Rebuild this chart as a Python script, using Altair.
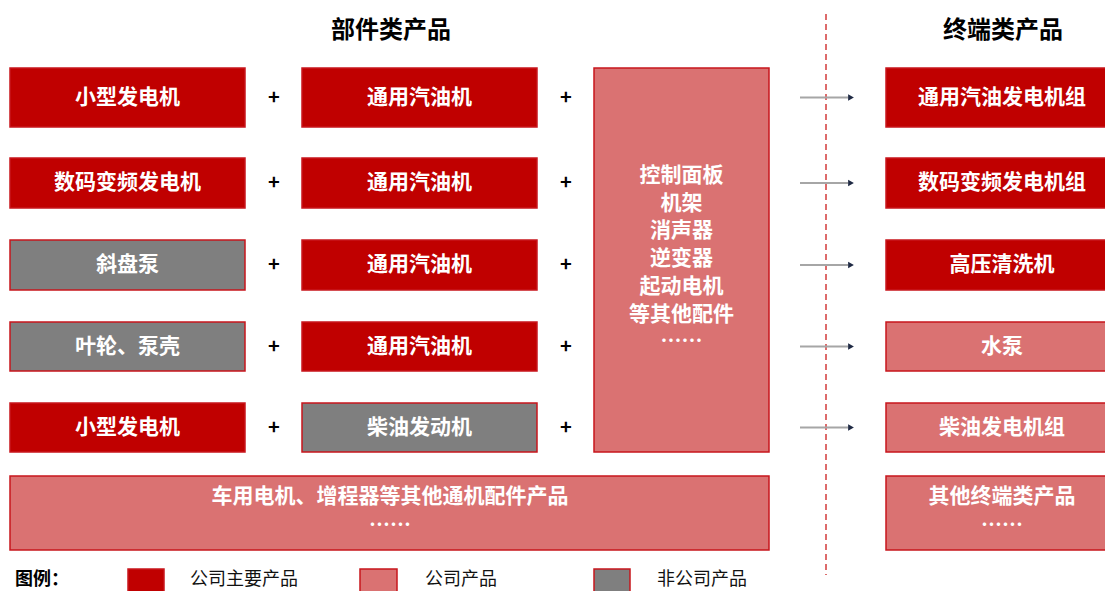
import altair as alt
import pandas as pd

# ---------------- data ----------------
MAIN, COMP, NON = "公司主要产品", "公司产品", "非公司产品"
kinds = [MAIN, COMP, NON]
kind_colors = ["#C00000", "#DA7272", "#7F7F7F"]

left_labels = ["小型发电机", "数码变频发电机", "斜盘泵", "叶轮、泵壳", "小型发电机"]
left_kinds = [MAIN, MAIN, NON, NON, MAIN]
mid_labels = ["通用汽油机", "通用汽油机", "通用汽油机", "通用汽油机", "柴油发动机"]
mid_kinds = [MAIN, MAIN, MAIN, MAIN, NON]
right_labels = ["通用汽油发电机组", "数码变频发电机组", "高压清洗机", "水泵", "柴油发电机组"]
right_kinds = [MAIN, MAIN, MAIN, COMP, COMP]
parts_lines = ["控制面板", "机架", "消声器", "逆变器", "起动电机", "等其他配件", "……"]
bottom_left_lines = ["车用电机、增程器等其他通机配件产品", "……"]
bottom_right_lines = ["其他终端类产品", "……"]
titles = ["部件类产品", "终端类产品"]
legend_title = "图例："

# ---------------- layout ----------------
W, H = 1097, 583
row_top = [68, 158, 240, 322, 403]
row_bot = [127, 208, 290, 371, 452]
col_left = (10, 245)
col_mid = (302, 537)
col_parts = (594, 769)
col_right = (886, 1120)
plus_x = [274, 566]
arrow_x = (800, 851)
divider_x = 826
bottom_box = (476, 550)
legend_sq_x = [(128, 164), (360, 397), (594, 630)]
legend_text_x = [190, 425, 657]
legend_y = 580
FONT = "Noto Sans CJK SC"

rects, labels = [], []
for i in range(5):
    yc = (row_top[i] + row_bot[i]) / 2
    for (x1, x2), lab, k in [(col_left, left_labels[i], left_kinds[i]),
                             (col_mid, mid_labels[i], mid_kinds[i]),
                             (col_right, right_labels[i], right_kinds[i])]:
        cx = (x1 + x2) / 2 if x2 < 1100 else 1002
        rects.append(dict(x=x1, x2=x2, y=row_top[i], y2=row_bot[i], kind=k))
        labels.append(dict(x=cx, y=yc, text=lab))

rects.append(dict(x=col_parts[0], x2=col_parts[1], y=row_top[0], y2=row_bot[4], kind=COMP))
for j, t in enumerate(parts_lines):
    labels.append(dict(x=(col_parts[0] + col_parts[1]) / 2, y=176 + j * 27.7, text=t))

rects.append(dict(x=col_left[0], x2=col_parts[1], y=bottom_box[0], y2=bottom_box[1], kind=COMP))
rects.append(dict(x=col_right[0], x2=col_right[1], y=bottom_box[0], y2=bottom_box[1], kind=COMP))
for j, t in enumerate(bottom_left_lines):
    labels.append(dict(x=390, y=497 + j * 29, text=t))
for j, t in enumerate(bottom_right_lines):
    labels.append(dict(x=1002, y=497 + j * 29, text=t))

for (x1, x2), k in zip(legend_sq_x, kinds):
    rects.append(dict(x=x1, x2=x2, y=569, y2=615, kind=k))

rect_df = pd.DataFrame(rects)
label_df = pd.DataFrame(labels)

centers = [(row_top[i] + row_bot[i]) / 2 for i in range(5)]
plus_df = pd.DataFrame([dict(x=px, y=c, text="+") for c in centers for px in plus_x])
arrow_df = pd.DataFrame([dict(x=arrow_x[0], x2=arrow_x[1] - 3, y=c) for c in centers])
head_df = pd.DataFrame([dict(x=arrow_x[1], y=c) for c in centers])
title_df = pd.DataFrame([dict(x=391, y=31, text=titles[0]), dict(x=1003, y=31, text=titles[1])])
legend_df = pd.DataFrame([dict(x=tx, y=legend_y, text=k) for tx, k in zip(legend_text_x, kinds)])
legend_title_df = pd.DataFrame([dict(x=15, y=legend_y, text=legend_title)])
divider_df = pd.DataFrame([dict(x=divider_x, y=14, y2=575)])

# ---------------- chart ----------------
xs = alt.Scale(domain=[8, 8 + W], range=[0, W])
ys = alt.Scale(domain=[8, 8 + H], reverse=True)
X = lambda f="x": alt.X(f"{f}:Q", scale=xs, axis=None)
Y = lambda f="y": alt.Y(f"{f}:Q", scale=ys, axis=None)

boxes = alt.Chart(rect_df).mark_rect(stroke="#C8161D", strokeWidth=1.5, clip=True).encode(
    x=X(), x2="x2:Q", y=Y(), y2="y2:Q",
    fill=alt.Fill("kind:N", scale=alt.Scale(domain=kinds, range=kind_colors), legend=None),
)

box_text = alt.Chart(label_df).mark_text(
    font=FONT, fontSize=21, fontWeight="bold", color="white", baseline="middle", align="center"
).encode(x=X(), y=Y(), text="text:N")

plus = alt.Chart(plus_df).mark_text(
    font=FONT, fontSize=20, fontWeight="bold", color="black", baseline="middle"
).encode(x=X(), y=Y(), text="text:N")

arrows = alt.Chart(arrow_df).mark_rule(color="#A6A6A6", strokeWidth=2).encode(
    x=X(), x2="x2:Q", y=Y()
)
heads = alt.Chart(head_df).mark_point(
    shape="triangle-right", filled=True, color="#1F2A44", size=45, opacity=1
).encode(x=X(), y=Y())

divider = alt.Chart(divider_df).mark_rule(
    color="#D23B3B", strokeWidth=1.5, strokeDash=[6, 4]
).encode(x=X(), y=Y(), y2="y2:Q")

title_text = alt.Chart(title_df).mark_text(
    font=FONT, fontSize=24, fontWeight="bold", color="black", baseline="middle"
).encode(x=X(), y=Y(), text="text:N")

legend_text = alt.Chart(legend_df).mark_text(
    font=FONT, fontSize=18, color="#111111", align="left", baseline="middle"
).encode(x=X(), y=Y(), text="text:N")

legend_title_text = alt.Chart(legend_title_df).mark_text(
    font=FONT, fontSize=18, fontWeight="bold", color="black", align="left", baseline="middle"
).encode(x=X(), y=Y(), text="text:N")

chart = alt.layer(
    divider, boxes, box_text, plus, arrows, heads, title_text, legend_text, legend_title_text
).properties(
    width=W, height=H, padding=0, autosize=alt.AutoSizeParams(type="none")
).configure_view(stroke=None)

chart.save("out.html", embed_options={"renderer": "svg", "actions": False})
